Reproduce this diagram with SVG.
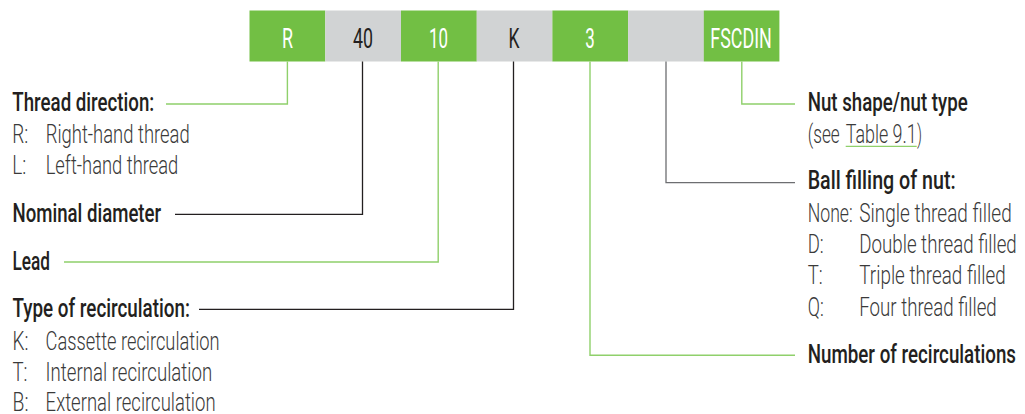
<svg xmlns="http://www.w3.org/2000/svg" width="1025" height="414" viewBox="0 0 1025 414">
<style>
text{font-family:Roboto,"Liberation Sans Narrow","DejaVu Sans Condensed","Liberation Sans",sans-serif;}
.bx{font-size:27px;text-anchor:middle;font-weight:400;}
.g{fill:#72bf44;}
.y{fill:#d1d3d4;}
.wt{fill:#ffffff;}
.dt{fill:#231f20;}
.h{font-size:25px;font-weight:500;fill:#231f20;}
.i{font-size:25px;font-weight:300;fill:#3a3a3a;}
.lg{fill:none;stroke:#8fd06b;stroke-width:1.4;}
.ld{fill:none;stroke:#231f20;stroke-width:1.3;}
.lm{fill:none;stroke:#6d6e71;stroke-width:1.3;}
</style>
<rect width="1025" height="414" fill="#ffffff"/>

<g id="box-R"><rect class="g" x="249.5" y="10.5" width="75.8" height="51"/><text class="bx wt" x="287.4" y="47.5" textLength="11" lengthAdjust="spacingAndGlyphs">R</text></g>
<g id="box-40"><rect class="y" x="325.3" y="10.5" width="75.8" height="51"/><text class="bx dt" x="363" y="47.5" textLength="20" lengthAdjust="spacingAndGlyphs">40</text></g>
<g id="box-10"><rect class="g" x="401" y="10.5" width="75.8" height="51"/><text class="bx wt" x="438.6" y="47.5" textLength="19" lengthAdjust="spacingAndGlyphs">10</text></g>
<g id="box-K"><rect class="y" x="476.7" y="10.5" width="75.8" height="51"/><text class="bx dt" x="514" y="47.5" textLength="11" lengthAdjust="spacingAndGlyphs">K</text></g>
<g id="box-3"><rect class="g" x="552.4" y="10.5" width="75.8" height="51"/><text class="bx wt" x="590" y="47.5" textLength="9.5" lengthAdjust="spacingAndGlyphs">3</text></g>
<g id="box-blank"><rect class="y" x="628.1" y="10.5" width="75.8" height="51"/></g>
<g id="box-FSCDIN"><rect class="g" x="703.8" y="10.5" width="75.6" height="51"/><text class="bx wt" x="741" y="47.5" textLength="61.5" lengthAdjust="spacingAndGlyphs">FSCDIN</text></g>

<g id="connectors">
<polyline class="lg" points="287.4,61.5 287.4,104 166,104"/>
<polyline class="ld" points="362.5,61.5 362.5,214.3 175,214.3"/>
<polyline class="lg" points="438.2,61.5 438.2,262 64,262"/>
<polyline class="ld" points="513.5,61.5 513.5,309.3 199,309.3"/>
<polyline class="lg" points="590,61.5 590,355.3 795,355.3"/>
<polyline class="lm" points="666,61.5 666,182.7 795,182.7"/>
<polyline class="lg" points="741.8,61.5 741.8,104 795,104"/>
</g>

<g id="label-thread-direction">
<text class="h" x="12.3" y="110.7" textLength="142" lengthAdjust="spacingAndGlyphs">Thread direction:</text>
<text class="i" x="12.3" y="142.7" textLength="16" lengthAdjust="spacingAndGlyphs">R:</text>
<text class="i" x="45.7" y="142.7" textLength="144" lengthAdjust="spacingAndGlyphs">Right-hand thread</text>
<text class="i" x="12.3" y="174.3" textLength="14" lengthAdjust="spacingAndGlyphs">L:</text>
<text class="i" x="45.7" y="174.3" textLength="132.6" lengthAdjust="spacingAndGlyphs">Left-hand thread</text>
</g>

<g id="label-nominal-diameter">
<text class="h" x="12.5" y="222" textLength="148.6" lengthAdjust="spacingAndGlyphs">Nominal diameter</text>
</g>

<g id="label-lead">
<text class="h" x="12.5" y="269.7" textLength="37.5" lengthAdjust="spacingAndGlyphs">Lead</text>
</g>

<g id="label-recirculation-type">
<text class="h" x="12.5" y="316.7" textLength="177.4" lengthAdjust="spacingAndGlyphs">Type of recirculation:</text>
<text class="i" x="12.5" y="349.5" textLength="16" lengthAdjust="spacingAndGlyphs">K:</text>
<text class="i" x="45.6" y="349.5" textLength="174" lengthAdjust="spacingAndGlyphs">Cassette recirculation</text>
<text class="i" x="12.5" y="381.2" textLength="15" lengthAdjust="spacingAndGlyphs">T:</text>
<text class="i" x="45.6" y="381.2" textLength="166.6" lengthAdjust="spacingAndGlyphs">Internal recirculation</text>
<text class="i" x="12.5" y="411" textLength="16" lengthAdjust="spacingAndGlyphs">B:</text>
<text class="i" x="45.6" y="411" textLength="170" lengthAdjust="spacingAndGlyphs">External recirculation</text>
</g>

<g id="label-nut-shape">
<text class="h" x="807.7" y="110.7" textLength="160" lengthAdjust="spacingAndGlyphs">Nut shape/nut type</text>
<text class="i" x="807.7" y="142.7" textLength="32" lengthAdjust="spacingAndGlyphs">(see</text>
<text class="i" x="845.7" y="142.7" textLength="71" lengthAdjust="spacingAndGlyphs">Table 9.1</text>
<text class="i" x="917" y="142.7" textLength="5" lengthAdjust="spacingAndGlyphs">)</text>
<line x1="845.7" y1="146.3" x2="916.7" y2="146.3" stroke="#8fd06b" stroke-width="1.3"/>
</g>

<g id="label-ball-filling">
<text class="h" x="807.7" y="189.3" textLength="148" lengthAdjust="spacingAndGlyphs">Ball filling of nut:</text>
<text class="i" x="807.7" y="221.7" textLength="45" lengthAdjust="spacingAndGlyphs">None:</text>
<text class="i" x="859.3" y="221.7" textLength="152.4" lengthAdjust="spacingAndGlyphs">Single thread filled</text>
<text class="i" x="807.7" y="253.3" textLength="16" lengthAdjust="spacingAndGlyphs">D:</text>
<text class="i" x="859.3" y="253.3" textLength="157.4" lengthAdjust="spacingAndGlyphs">Double thread filled</text>
<text class="i" x="807.7" y="284.3" textLength="15" lengthAdjust="spacingAndGlyphs">T:</text>
<text class="i" x="859.3" y="284.3" textLength="146.4" lengthAdjust="spacingAndGlyphs">Triple thread filled</text>
<text class="i" x="807.7" y="315.5" textLength="16" lengthAdjust="spacingAndGlyphs">Q:</text>
<text class="i" x="859.3" y="315.5" textLength="137.4" lengthAdjust="spacingAndGlyphs">Four thread filled</text>
</g>

<g id="label-number-of-recirculations">
<text class="h" x="807.7" y="363.3" textLength="208.3" lengthAdjust="spacingAndGlyphs">Number of recirculations</text>
</g>
</svg>
